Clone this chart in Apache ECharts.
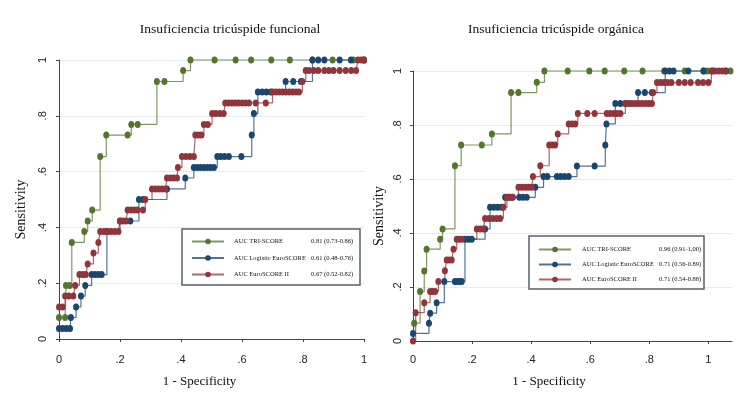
<!DOCTYPE html>
<html>
<head>
<meta charset="utf-8">
<title>Curvas ROC</title>
<script src="https://cdn.jsdelivr.net/npm/echarts@6/dist/echarts.min.js"></script>
<style>
  html, body { margin: 0; padding: 0; background: #fff; }
  #chart { width: 750px; height: 397px; }
</style>
</head>
<body>
<div id="chart"></div>
<script>
const panelTitles = ['Insuficiencia tricúspide funcional', 'Insuficiencia tricúspide orgánica'];
const panelKeys = ['funcional', 'organica'];
const scoreNames = ['AUC TRI-SCORE', 'AUC Logistic EuroSCORE', 'AUC EuroSCORE II'];
const aucFuncional = ['0.81 (0.73-0.86)', '0.61 (0.48-0.76)', '0.67 (0.52-0.82)'];
const aucOrganica = ['0.96 (0.91-1,00)', '0.71 (0.56-0.89)', '0.71 (0.54-0.88)'];
const tickValues = [0, 0.2, 0.4, 0.6, 0.8, 1];
const tickLabels = ['0', '.2', '.4', '.6', '.8', '1'];

// [1 - specificity, sensitivity], insuficiencia funcional
const triFuncional = [
  [0, 0.077], [0.02, 0.077], [0.023, 0.192], [0.035, 0.192], [0.042, 0.346], [0.083, 0.385],
  [0.094, 0.423], [0.109, 0.462], [0.135, 0.654], [0.155, 0.731], [0.225, 0.731], [0.237, 0.769],
  [0.258, 0.769], [0.321, 0.923], [0.346, 0.923], [0.407, 0.962], [0.431, 1], [0.51, 1],
  [0.579, 1], [0.63, 1], [0.696, 1], [0.757, 1], [0.831, 1], [0.897, 1], [0.965, 1], [1, 1]
];
const logisticFuncional = [
  [0, 0.038], [0.012, 0.038], [0.024, 0.038], [0.036, 0.038], [0.039, 0.077], [0.056, 0.115],
  [0.072, 0.154], [0.086, 0.192], [0.107, 0.231], [0.118, 0.231], [0.129, 0.231], [0.14, 0.231],
  [0.157, 0.385], [0.2, 0.423], [0.234, 0.423], [0.262, 0.5], [0.275, 0.5], [0.354, 0.538],
  [0.414, 0.577], [0.442, 0.615], [0.453, 0.615], [0.464, 0.615], [0.475, 0.615], [0.486, 0.615],
  [0.497, 0.615], [0.508, 0.615], [0.519, 0.654], [0.53, 0.654], [0.543, 0.654], [0.557, 0.654],
  [0.598, 0.654], [0.632, 0.731], [0.639, 0.808], [0.652, 0.885], [0.666, 0.885], [0.68, 0.885],
  [0.694, 0.885], [0.743, 0.923], [0.768, 0.923], [0.793, 0.923], [0.831, 1], [0.85, 1],
  [0.87, 1], [0.92, 1], [0.957, 1], [1, 1]
];
const euroIIFuncional = [
  [0, 0.115], [0.012, 0.115], [0.02, 0.154], [0.032, 0.154], [0.047, 0.154], [0.053, 0.192],
  [0.067, 0.231], [0.078, 0.231], [0.088, 0.231], [0.094, 0.269], [0.113, 0.308], [0.129, 0.346],
  [0.135, 0.385], [0.147, 0.385], [0.159, 0.385], [0.171, 0.385], [0.183, 0.385], [0.195, 0.385],
  [0.2, 0.423], [0.21, 0.423], [0.22, 0.423], [0.225, 0.462], [0.236, 0.462], [0.247, 0.462],
  [0.257, 0.462], [0.275, 0.462], [0.283, 0.5], [0.305, 0.538], [0.316, 0.538], [0.327, 0.538],
  [0.338, 0.538], [0.349, 0.538], [0.354, 0.577], [0.365, 0.577], [0.376, 0.577], [0.387, 0.577],
  [0.39, 0.615], [0.403, 0.654], [0.416, 0.654], [0.429, 0.654], [0.442, 0.654], [0.447, 0.731],
  [0.457, 0.731], [0.467, 0.731], [0.475, 0.769], [0.488, 0.769], [0.502, 0.808], [0.514, 0.808],
  [0.527, 0.808], [0.54, 0.808], [0.545, 0.846], [0.556, 0.846], [0.567, 0.846], [0.578, 0.846],
  [0.589, 0.846], [0.6, 0.846], [0.611, 0.846], [0.623, 0.846], [0.645, 0.846], [0.678, 0.846],
  [0.7, 0.885], [0.711, 0.885], [0.722, 0.885], [0.733, 0.885], [0.744, 0.885], [0.755, 0.885],
  [0.766, 0.885], [0.777, 0.885], [0.787, 0.885], [0.798, 0.923], [0.809, 0.962], [0.82, 0.962],
  [0.835, 0.962], [0.85, 0.962], [0.87, 0.962], [0.885, 0.962], [0.9, 0.962], [0.92, 0.962],
  [0.94, 0.962], [0.958, 0.962], [0.974, 0.962], [0.98, 1], [0.99, 1], [1, 1]
];

// [1 - specificity, sensitivity], insuficiencia orgánica
const triOrganica = [
  [0.004, 0.066], [0.024, 0.183], [0.038, 0.259], [0.046, 0.34], [0.092, 0.377], [0.1, 0.415],
  [0.142, 0.649], [0.163, 0.726], [0.233, 0.726], [0.267, 0.767], [0.332, 0.92], [0.357, 0.92],
  [0.419, 0.958], [0.445, 1], [0.524, 1], [0.597, 1], [0.649, 1], [0.715, 1], [0.777, 1],
  [0.85, 1], [0.92, 1], [0.983, 1], [0.996, 1], [1.075, 1]
];
const logisticOrganica = [
  [0, 0.028], [0.054, 0.066], [0.058, 0.103], [0.08, 0.142], [0.106, 0.22], [0.142, 0.22],
  [0.149, 0.22], [0.157, 0.22], [0.165, 0.22], [0.176, 0.377], [0.188, 0.377], [0.199, 0.377],
  [0.244, 0.415], [0.261, 0.495], [0.274, 0.495], [0.287, 0.495], [0.3, 0.495], [0.312, 0.532],
  [0.325, 0.532], [0.338, 0.532], [0.36, 0.532], [0.372, 0.532], [0.385, 0.532], [0.414, 0.569],
  [0.442, 0.609], [0.455, 0.609], [0.487, 0.609], [0.5, 0.609], [0.513, 0.609], [0.527, 0.609],
  [0.555, 0.648], [0.615, 0.648], [0.651, 0.726], [0.655, 0.804], [0.685, 0.88], [0.702, 0.88],
  [0.719, 0.88], [0.762, 0.92], [0.785, 0.92], [0.809, 0.92], [0.854, 1], [0.868, 1],
  [0.882, 1], [0.932, 1], [0.984, 1], [1.015, 1], [1.06, 1]
];
const euroIIOrganica = [
  [0, 0], [0.009, 0.105], [0.038, 0.142], [0.058, 0.183], [0.066, 0.183], [0.075, 0.183],
  [0.086, 0.22], [0.108, 0.26], [0.114, 0.3], [0.122, 0.3], [0.131, 0.3], [0.137, 0.34],
  [0.148, 0.377], [0.156, 0.377], [0.165, 0.377], [0.216, 0.415], [0.227, 0.415], [0.238, 0.415],
  [0.244, 0.454], [0.257, 0.454], [0.27, 0.454], [0.283, 0.454], [0.295, 0.454], [0.306, 0.495],
  [0.318, 0.532], [0.326, 0.532], [0.335, 0.532], [0.357, 0.569], [0.368, 0.569], [0.38, 0.569],
  [0.391, 0.569], [0.402, 0.569], [0.406, 0.609], [0.431, 0.649], [0.461, 0.726], [0.471, 0.726],
  [0.481, 0.726], [0.49, 0.767], [0.527, 0.804], [0.538, 0.804], [0.549, 0.804], [0.558, 0.843],
  [0.59, 0.843], [0.615, 0.843], [0.656, 0.843], [0.668, 0.843], [0.68, 0.843], [0.691, 0.843],
  [0.702, 0.843], [0.719, 0.88], [0.73, 0.88], [0.741, 0.88], [0.752, 0.88], [0.763, 0.88],
  [0.775, 0.88], [0.787, 0.88], [0.798, 0.88], [0.809, 0.88], [0.813, 0.92], [0.826, 0.957],
  [0.838, 0.957], [0.85, 0.957], [0.862, 0.957], [0.875, 0.957], [0.9, 0.957], [0.92, 0.957],
  [0.94, 0.957], [0.965, 0.957], [0.982, 0.957], [1.0, 0.957], [1.01, 1], [1.022, 1],
  [1.035, 1], [1.047, 1], [1.058, 1]
];

const panelData = [
  [triFuncional, logisticFuncional, euroIIFuncional],
  [triOrganica, logisticOrganica, euroIIOrganica]
];
const panelAuc = [aucFuncional, aucOrganica];
const colors = ['#55752f', '#1a476f', '#90353b'];
const serif = "'Liberation Serif', 'Times New Roman', serif";
const sans = "'Liberation Sans', Arial, sans-serif";

const chart = echarts.init(document.getElementById('chart'), null, { renderer: 'canvas' });

const grids = [
  { left: 59, top: 60, width: 305, height: 279 },
  { left: 413, top: 71, width: 319, height: 270 }
];
const xMax = [1, 1.08];
const xOffset = [9, 7];
const yOffset = [6, 5];
const xNamePad = [24, 47];
const yNameGap = [25, 22];

function tickText(v) {
  const i = tickValues.findIndex(t => Math.abs(t - v) < 1e-6);
  return i < 0 ? '' : tickLabels[i];
}

const xAxes = grids.map((g, i) => ({
  gridIndex: i,
  type: 'value',
  min: 0,
  max: xMax[i],
  interval: 0.2,
  offset: xOffset[i],
  name: '1 - Specificity',
  nameLocation: 'middle',
  nameGap: 27,
  nameTextStyle: { fontFamily: serif, fontSize: 13, color: '#111', padding: [0, xNamePad[i], 0, 0] },
  axisLine: { lineStyle: { color: '#444', width: 1 } },
  axisTick: { length: 3, lineStyle: { color: '#444' }, customValues: tickValues },
  axisLabel: { customValues: tickValues, formatter: tickText, fontFamily: sans, fontSize: 11, color: '#222', margin: 6 },
  splitLine: { show: false }
}));

const yAxes = grids.map((g, i) => ({
  gridIndex: i,
  type: 'value',
  min: 0,
  max: 1,
  interval: 0.2,
  offset: yOffset[i],
  name: 'Sensitivity',
  nameLocation: 'middle',
  nameGap: yNameGap[i],
  nameRotate: 90,
  nameTextStyle: { fontFamily: serif, fontSize: 14, color: '#111', padding: [0, 20, 0, 0] },
  axisLine: { show: true, lineStyle: { color: '#444', width: 1 } },
  axisTick: { show: true, length: 3, lineStyle: { color: '#444' } },
  axisLabel: { formatter: tickText, rotate: 90, fontFamily: sans, fontSize: 11, color: '#222', margin: 5 },
  splitLine: { show: true, lineStyle: { color: '#e4ebef', width: 1 } }
}));

const series = [];
panelData.forEach((curves, p) => {
  curves.forEach((pts, k) => {
    series.push({
      name: panelKeys[p] + ': ' + scoreNames[k],
      type: 'line',
      xAxisIndex: p,
      yAxisIndex: p,
      data: pts,
      step: 'end',
      symbol: 'circle',
      symbolSize: [6, 7],
      showAllSymbol: true,
      clip: false,
      itemStyle: { color: colors[k] },
      lineStyle: { color: colors[k], width: 1.2, opacity: 0.75 },
      emphasis: { disabled: true },
      animation: false
    });
  });
});

const legendPos = [
  { left: 182, top: 229, padding: [9, 6, 7, 9], itemGap: 9.5, namePad: 5, nameW: 77, valW: 43 },
  { left: 529, top: 236, padding: [10, 2, 6, 9], itemGap: 8, namePad: 6, nameW: 77, valW: 43 }
];

const legends = legendPos.map((lp, p) => ({
  orient: 'vertical',
  left: lp.left,
  top: lp.top,
  padding: lp.padding,
  itemGap: lp.itemGap,
  itemWidth: 32,
  itemHeight: 7,
  backgroundColor: '#fff',
  borderColor: '#56626e',
  borderWidth: 1.5,
  borderRadius: 0,
  selectedMode: false,
  data: scoreNames.map(n => panelKeys[p] + ': ' + n),
  formatter: name => {
    const label = name.split(': ')[1];
    const k = scoreNames.indexOf(label);
    return '{n|' + label + '}{v|' + panelAuc[p][k] + '}';
  },
  textStyle: {
    rich: {
      n: { fontFamily: serif, fontSize: 6.5, lineHeight: 10, color: '#111', width: lp.nameW, padding: [0, 0, 0, lp.namePad] },
      v: { fontFamily: serif, fontSize: 6.5, lineHeight: 10, color: '#111', width: lp.valW }
    }
  }
}));

chart.setOption({
  backgroundColor: '#fff',
  animation: false,
  title: [
    { text: panelTitles[0], left: 225, top: 17, textAlign: 'center',
      textStyle: { fontFamily: serif, fontSize: 13.5, fontWeight: 'normal', color: '#111' } },
    { text: panelTitles[1], left: 551, top: 17, textAlign: 'center',
      textStyle: { fontFamily: serif, fontSize: 13.5, fontWeight: 'normal', color: '#111' } }
  ],
  grid: grids,
  xAxis: xAxes,
  yAxis: yAxes,
  legend: legends,
  series: series
});

window.addEventListener('resize', () => chart.resize());
</script>
</body>
</html>
